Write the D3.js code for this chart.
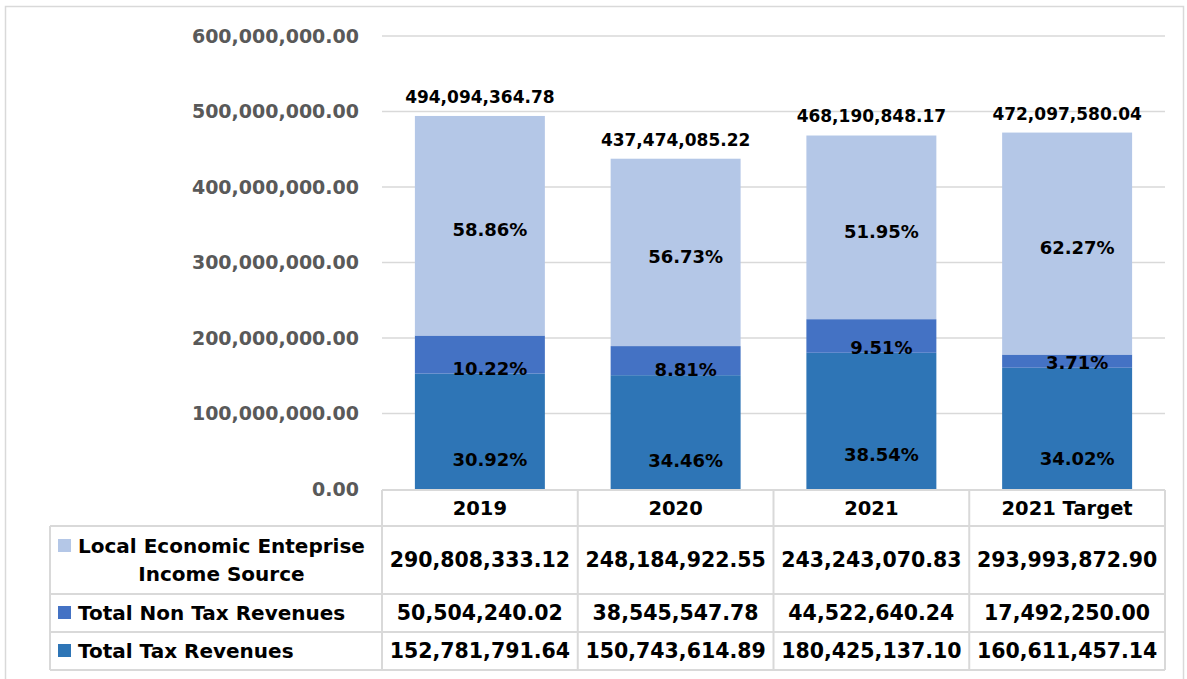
<!DOCTYPE html>
<html>
<head>
<meta charset="utf-8">
<script src="https://cdn.jsdelivr.net/npm/d3@7"></script>
<style>
	body { margin: 0; background: #fff; }
	svg text { font-family: "DejaVu Sans", sans-serif; font-weight: bold; }
</style>
</head>
<body>
<svg width="1187" height="679"></svg>
<script>
//categories and series
var years = ["2019", "2020", "2021", "2021 Target"];
var seriesNames = ["Local Economic Enteprise Income Source", "Total Non Tax Revenues", "Total Tax Revenues"];
var taxRevenues = [152781791.64, 150743614.89, 180425137.10, 160611457.14];
var nonTaxRevenues = [50504240.02, 38545547.78, 44522640.24, 17492250.00];
var localEconomic = [290808333.12, 248184922.55, 243243070.83, 293993872.90];
var yTicks = [0, 100000000, 200000000, 300000000, 400000000, 500000000, 600000000];

var colors = { local: "#b4c7e7", nontax: "#4472c4", tax: "#2e75b6" };

var svg = d3.select("svg"),
	width = +svg.attr("width"),
	height = +svg.attr("height");

var fmt = d3.format(",.2f"),
	pct = d3.format(".2%");

//build rows for the stack
var rows = years.map(function (y, i) {
	return { year: y, tax: taxRevenues[i], nontax: nonTaxRevenues[i], local: localEconomic[i],
		total: taxRevenues[i] + nonTaxRevenues[i] + localEconomic[i] };
});

var stack = d3.stack().keys(["tax", "nontax", "local"]);
var layers = stack(rows);

//scales
var x = d3.scaleBand()
	.domain(years)
	.range([382, 1165])
	.paddingInner(0.336)
	.paddingOuter(0.168);

var y = d3.scaleLinear()
	.domain([0, 600000000])
	.range([489, 36]);

//outer frame
svg.append("rect")
	.attr("x", 5.5).attr("y", 6.5)
	.attr("width", 1178).attr("height", 700)
	.attr("fill", "none")
	.attr("stroke", "#d9d9d9")
	.attr("stroke-width", 1.5);

//gridlines
svg.append("g")
	.selectAll("line")
	.data(yTicks.slice(1))
	.enter().append("line")
	.attr("x1", 382).attr("x2", 1165)
	.attr("y1", function (d) { return y(d); })
	.attr("y2", function (d) { return y(d); })
	.attr("stroke", "#d9d9d9")
	.attr("stroke-width", 1.5);

//y axis
var yAxis = svg.append("g")
	.attr("transform", "translate(382,0)")
	.call(d3.axisLeft(y).tickValues(yTicks).tickFormat(fmt).tickSize(0).tickPadding(23));
yAxis.select(".domain").remove();
yAxis.selectAll("text")
	.attr("fill", "#595959")
	.style("font-size", "19px");

//bars
var layer = svg.append("g")
	.selectAll("g")
	.data(layers)
	.enter().append("g")
	.attr("fill", function (d) { return colors[d.key]; });

layer.selectAll("rect")
	.data(function (d) { return d; })
	.enter().append("rect")
	.attr("x", function (d) { return x(d.data.year); })
	.attr("y", function (d) { return y(d[1]); })
	.attr("width", x.bandwidth())
	.attr("height", function (d) { return y(d[0]) - y(d[1]); });

//percentage labels inside segments
layer.each(function (l) {
	d3.select(this).selectAll("text")
		.data(l)
		.enter().append("text")
		.attr("x", function (d) { return x(d.data.year) + x.bandwidth() / 2 + 10; })
		.attr("y", function (d) {
			var top = y(d[1]), bottom = y(d[0]);
			if (l.key == "tax") return top + (bottom - top) * 0.75;
			if (l.key == "nontax") return bottom - 5;
			return (top + bottom) / 2 + 4;
		})
		.attr("dy", "0.35em")
		.attr("text-anchor", "middle")
		.attr("fill", "#000")
		.style("font-size", "18px")
		.text(function (d) { return pct(d.data[l.key] / d.data.total); });
});

//total labels above bars
svg.append("g")
	.selectAll("text")
	.data(rows)
	.enter().append("text")
	.attr("x", function (d) { return x(d.year) + x.bandwidth() / 2; })
	.attr("y", function (d) { return y(d.total) - 19; })
	.attr("dy", "0.35em")
	.attr("text-anchor", "middle")
	.attr("fill", "#000")
	.style("font-size", "17px")
	.text(function (d) { return fmt(d.total); });

//data table below the chart
var table = svg.append("g"),
	colLeft = x.range()[0],
	colStep = x.step(),
	rowTops = [490, 526, 594, 632, 670],
	labelLeft = 50;

var tableRows = [
	{ key: "local", name: seriesNames[0], values: localEconomic },
	{ key: "nontax", name: seriesNames[1], values: nonTaxRevenues },
	{ key: "tax", name: seriesNames[2], values: taxRevenues }
];

var lineStyle = function (sel) {
	sel.attr("stroke", "#d9d9d9").attr("stroke-width", 2);
};

//horizontal table lines
table.append("line").attr("x1", colLeft).attr("x2", 1165).attr("y1", rowTops[0]).attr("y2", rowTops[0]).call(lineStyle);
table.selectAll(".hline")
	.data(rowTops.slice(1))
	.enter().append("line")
	.attr("class", "hline")
	.attr("x1", labelLeft).attr("x2", 1165)
	.attr("y1", function (d) { return d; })
	.attr("y2", function (d) { return d; })
	.call(lineStyle);

//vertical table lines
table.append("line").attr("x1", labelLeft).attr("x2", labelLeft).attr("y1", rowTops[1]).attr("y2", rowTops[4]).call(lineStyle);
table.selectAll(".vline")
	.data(d3.range(years.length + 1))
	.enter().append("line")
	.attr("class", "vline")
	.attr("x1", function (d) { return colLeft + d * colStep; })
	.attr("x2", function (d) { return colLeft + d * colStep; })
	.attr("y1", rowTops[0]).attr("y2", rowTops[4])
	.call(lineStyle);

//header labels
table.selectAll(".head")
	.data(years)
	.enter().append("text")
	.attr("class", "head")
	.attr("x", function (d, i) { return colLeft + (i + 0.5) * colStep; })
	.attr("y", (rowTops[0] + rowTops[1]) / 2)
	.attr("dy", "0.35em")
	.attr("text-anchor", "middle")
	.attr("fill", "#000")
	.style("font-size", "19.5px")
	.text(function (d) { return d; });

//row labels, legend keys and values
tableRows.forEach(function (r, ri) {
	var top = rowTops[ri + 1], bottom = rowTops[ri + 2], mid = (top + bottom) / 2;

	table.append("rect")
		.attr("x", 58).attr("y", ri == 0 ? mid - 21 : mid - 7)
		.attr("width", 13).attr("height", 13)
		.attr("fill", colors[r.key]);

	if (ri == 0) {
		var first = table.append("text")
			.attr("x", 78).attr("y", mid - 14)
			.attr("dy", "0.35em")
			.attr("fill", "#000")
			.style("font-size", "20px")
			.text("Local Economic Enteprise");
		var w = first.node().getComputedTextLength();
		table.append("text")
			.attr("x", 78 + w / 2).attr("y", mid + 14)
			.attr("dy", "0.35em")
			.attr("text-anchor", "middle")
			.attr("fill", "#000")
			.style("font-size", "20px")
			.text("Income Source");
	} else {
		table.append("text")
			.attr("x", 78).attr("y", mid)
			.attr("dy", "0.35em")
			.attr("fill", "#000")
			.style("font-size", "20px")
			.text(r.name);
	}

	table.selectAll(".v" + ri)
		.data(r.values)
		.enter().append("text")
		.attr("class", "v" + ri)
		.attr("x", function (d, i) { return colLeft + (i + 0.5) * colStep; })
		.attr("y", mid)
		.attr("dy", "0.35em")
		.attr("text-anchor", "middle")
		.attr("fill", "#000")
		.style("font-size", "20.5px")
		.text(function (d) { return fmt(d); });
});
</script>
</body>
</html>
